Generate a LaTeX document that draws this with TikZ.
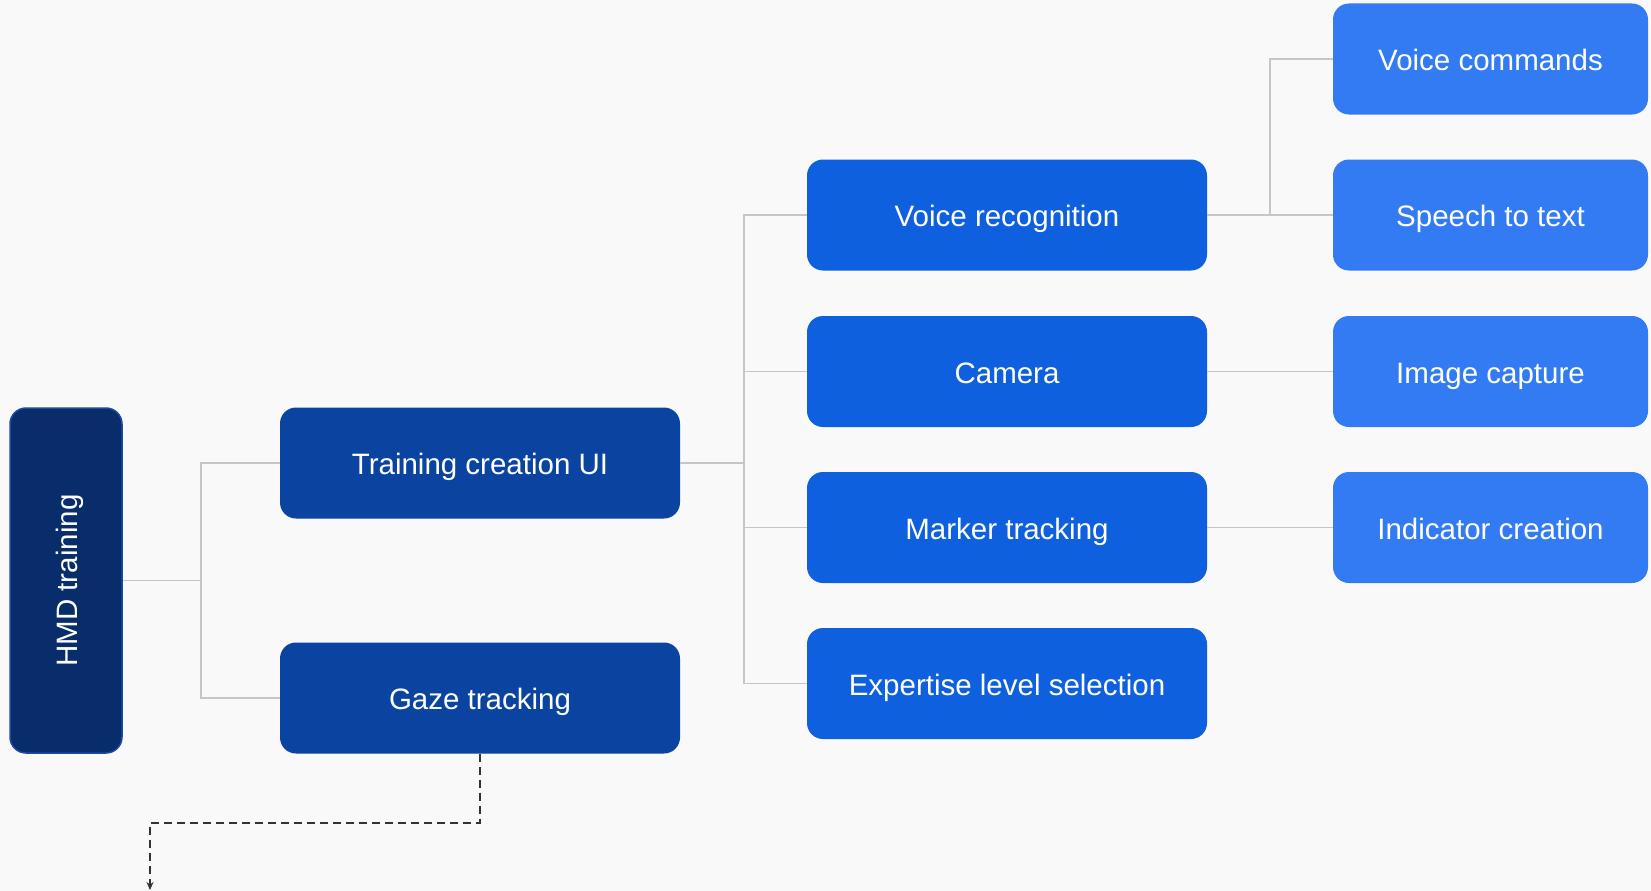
\documentclass[tikz,border=0pt]{standalone}
\usepackage{fontspec}
\setmainfont{Liberation Sans}
\usetikzlibrary{arrows.meta,positioning}

\definecolor{bgpaper}{HTML}{F9F9F9}
\definecolor{navyhmd}{HTML}{082D6A}
\definecolor{navyedge}{HTML}{1A4BA6}
\definecolor{bluetwo}{HTML}{0A44A0}
\definecolor{bluethree}{HTML}{0E60DE}
\definecolor{bluefour}{HTML}{337BF2}
\definecolor{linkgray}{HTML}{C6C6C6}
\definecolor{flowgray}{HTML}{333333}

\tikzset{
  box/.style={rounded corners=16pt, text=white, inner sep=0pt,
    font=\fontsize{29.5}{36}\selectfont, text height=23.5pt, text depth=0pt,
    minimum height=111pt},
  hmdbox/.style={box, fill=navyhmd, draw=navyedge, line width=1.5pt,
    rotate=90, minimum width=345pt, minimum height=112pt},
  lvltwo/.style={box, fill=bluetwo, minimum width=400pt},
  lvlthree/.style={box, fill=bluethree, minimum width=400pt},
  lvlfour/.style={box, fill=bluefour, minimum width=315pt},
  link/.style={draw=linkgray, line width=1.6pt},
  flow/.style={draw=flowgray, line width=1.6pt, dash pattern=on 8pt off 5pt,
    -{Stealth[length=8pt,width=7pt]}},
}

\begin{document}
\begin{tikzpicture}[x=1pt, y=-1pt]
  \useasboundingbox[fill=bgpaper] (0,0) rectangle (1651,891);

  % root
  \node[hmdbox] (hmd) at (66,580.5) {HMD training};

  % second level
  \node[lvltwo] (tui)  at (480,463) {Training creation UI};
  \node[lvltwo] (gaze) at (480,698) {Gaze tracking};

  % third level
  \node[lvlthree] (vrec) at (1007,215)   {Voice recognition};
  \node[lvlthree] (cam)  at (1007,371.5) {Camera};
  \node[lvlthree] (mark) at (1007,527.5) {Marker tracking};
  \node[lvlthree] (expl) at (1007,683.5) {Expertise level selection};

  % fourth level
  \node[lvlfour] (vcmd) at (1490.5,59)    {Voice commands};
  \node[lvlfour] (stt)  at (1490.5,215)   {Speech to text};
  \node[lvlfour] (imgc) at (1490.5,371.5) {Image capture};
  \node[lvlfour] (indc) at (1490.5,527.5) {Indicator creation};

  % connectors
  \draw[link] (hmd.south) -- ++(78,0) coordinate (j1) |- (tui.west);
  \draw[link] (j1) |- (gaze.west);
  \draw[link] (tui.east) -- ++(64,0) coordinate (j2) |- (vrec.west);
  \foreach \n in {cam,mark,expl}
    \draw[link] (j2) |- (\n.west);
  \draw[link] (vrec.east) -- ++(63,0) coordinate (j3) |- (vcmd.west);
  \draw[link] (j3) -- (stt.west);
  \draw[link] (cam.east) -- (imgc.west);
  \draw[link] (mark.east) -- (indc.west);

  % outgoing flow
  \coordinate (out) at (150,890);
  \draw[flow] (gaze.south) -- ++(0,69) -| (out);
\end{tikzpicture}
\end{document}
